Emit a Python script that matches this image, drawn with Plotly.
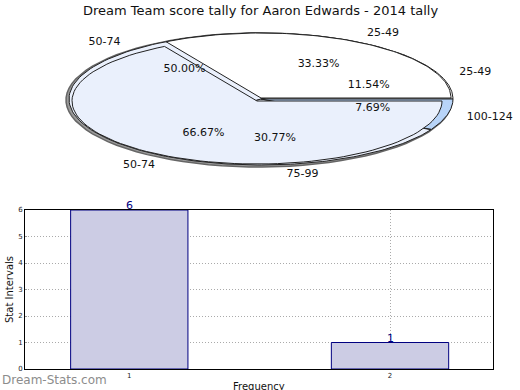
import numpy as np
import plotly.graph_objects as go

title = "Dream Team score tally for Aaron Edwards - 2014 tally"

# Pie A (front ring)
pieA_labels = ["25-49", "50-74"]
pieA_values = [33.33, 66.67]
pieA_colors = ["#ffffff", "#eaf0fc"]

# Pie B (back ring)
pieB_labels = ["25-49", "50-74", "75-99", "100-124"]
pieB_values = [11.54, 50.00, 30.77, 7.69]
pieB_colors = ["#ffffff", "#eaf0fc", "#eaf0fc", "#b8d4f8"]

# Bar chart
bar_x = [1, 2]
bar_y = [6, 1]
y_ticks = [0, 1, 2, 3, 4, 5, 6]

FONT = "DejaVu Sans"
fig = go.Figure()

CX, CY, A, B = 261, 99, 192, 66


def wedge(cx, cy, a, b, t0, t1):
    t = np.linspace(np.radians(t0), np.radians(t1), 90)
    xs = np.concatenate([[cx], cx + a * np.cos(t), [cx]])
    ys = np.concatenate([[cy], cy - b * np.sin(t), [cy]])
    return xs, ys


def add_wedge(cx, cy, a, b, t0, t1, color, line="#222222", width=1):
    xs, ys = wedge(cx, cy, a, b, t0, t1)
    fig.add_trace(go.Scatter(x=xs, y=ys, mode="lines", fill="toself",
                             fillcolor=color, line=dict(color=line, width=width),
                             xaxis="x2", yaxis="y2", hoverinfo="skip",
                             showlegend=False))


# shadow
add_wedge(CX - 2, CY + 1, A + 1, B + 1, 0, 360, "#9a9a9a", "#666666", 1.5)


def angles(values):
    tot = sum(values)
    out, s = [], 0.0
    for v in values:
        e = s + v / tot * 360
        out.append((s, e))
        s = e
    return out


label_x, label_y, label_t, label_pos = [], [], [], []
pct_x, pct_y, pct_t = [], [], []


def collect(values, labels, cx, cy, a, b):
    for (s, e), v, lab in zip(angles(values), values, labels):
        m = np.radians((s + e) / 2)
        pct_x.append(cx + 0.6 * a * np.cos(m))
        pct_y.append(cy - 0.6 * b * np.sin(m))
        pct_t.append(f"{v:.2f}%")
        label_x.append(cx + (a + 20) * np.cos(m))
        label_y.append(cy - (b + 10) * np.sin(m))
        label_t.append(lab)
        label_pos.append("middle right" if np.cos(m) >= 0 else "middle left")


# Pie B (back)
for (s, e), c in zip(angles(pieB_values), pieB_colors):
    add_wedge(CX, CY, A, B, s, e, c)
collect(pieB_values, pieB_labels, CX, CY, A, B)

# Pie A (front)
angA = angles(pieA_values)
add_wedge(CX, CY - 1, A - 2, B - 1, angA[0][0], angA[0][1], pieA_colors[0])
add_wedge(CX - 4, CY + 2, A - 7, B - 3, angA[1][0], angA[1][1], pieA_colors[1])
collect(pieA_values, pieA_labels, CX, CY, A, B)

fig.add_trace(go.Scatter(x=pct_x, y=pct_y, text=pct_t, mode="text",
                         textfont=dict(family=FONT, size=11, color="#111111"),
                         xaxis="x2", yaxis="y2", hoverinfo="skip", showlegend=False))
fig.add_trace(go.Scatter(x=label_x, y=label_y, text=label_t, mode="text",
                         textposition=label_pos,
                         textfont=dict(family=FONT, size=11, color="#111111"),
                         xaxis="x2", yaxis="y2", hoverinfo="skip", showlegend=False))

# Bars
fig.add_trace(go.Bar(x=bar_x, y=bar_y, width=0.45,
                     marker=dict(color="#cccce4", line=dict(color="#000080", width=1)),
                     showlegend=False, hoverinfo="skip"))

annotations = [
    dict(text=title, x=0.5, y=10, xref="paper", yref="y2", showarrow=False,
         font=dict(family=FONT, size=13, color="#111111")),
    dict(text="Dream-Stats.com", x=0, y=380, xref="paper", yref="y2",
         xanchor="left", showarrow=False,
         font=dict(family=FONT, size=12, color="#8c8c8c")),
    dict(text="Frequency", x=259 / 520, y=380, xref="paper", yref="y2",
         yanchor="top", showarrow=False, borderpad=0,
         font=dict(family=FONT, size=10, color="#111111")),
]
for xv, yv in zip(bar_x, bar_y):
    annotations.append(dict(text=str(yv), x=xv, y=yv, xref="x", yref="y",
                            yanchor="bottom", yshift=-4, showarrow=False,
                            font=dict(family=FONT, size=11, color="#000080")))

GRID = dict(showgrid=True, gridcolor="#aaaaaa", griddash="1px,2px", gridwidth=1)

fig.update_layout(
    width=520, height=390, margin=dict(l=0, r=0, t=0, b=0, autoexpand=False),
    paper_bgcolor="white", plot_bgcolor="rgba(0,0,0,0)",
    font=dict(family=FONT, color="#111111"),
    xaxis=dict(domain=[25 / 520, 493 / 520], range=[0.6, 2.395],
               tickvals=bar_x, ticktext=[str(v) for v in bar_x],
               tickfont=dict(size=7, color="#222"), **GRID,
               showline=True, mirror=True,
               linecolor="black", linewidth=1, zeroline=False, ticks="",
               automargin=False),
    yaxis=dict(domain=[21 / 390, 180 / 390], range=[0, 6], tickvals=y_ticks,
               tickfont=dict(size=7, color="#222"), **GRID,
               showline=True, mirror=True,
               linecolor="black", linewidth=1, zeroline=False, ticks="inside",
               ticklen=2, tickcolor="#999", automargin=False,
               title=dict(text="Stat Intervals", font=dict(size=10), standoff=2)),
    xaxis2=dict(domain=[0, 1], range=[0, 520], visible=False, fixedrange=True,
                automargin=False),
    yaxis2=dict(domain=[0, 1], range=[390, 0], visible=False, fixedrange=True,
                anchor="x2", automargin=False),
    annotations=annotations,
)

fig.write_html("out.html", config={"displayModeBar": False},
               post_script="document.body.style.margin='0';"
                           "document.body.style.overflow='hidden';")
